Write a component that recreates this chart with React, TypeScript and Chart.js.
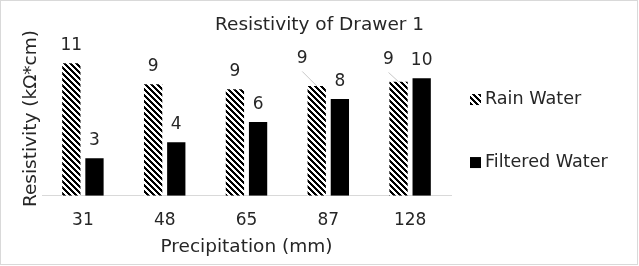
import React, { useEffect, useRef } from 'react';
import { Chart, registerables } from 'chart.js';

Chart.register(...registerables);

// ---- data ----
const categories = ['31', '48', '65', '87', '128'];
const rainWater = [10.94, 9.21, 8.79, 9.07, 9.42];
const filteredWater = [3.09, 4.41, 6.09, 7.99, 9.7];
const seriesNames = ['Rain Water', 'Filtered Water'];
const chartTitle = 'Resistivity of Drawer 1';
const xAxisTitle = 'Precipitation (mm)';
const yAxisTitle = 'Resistivity (kΩ*cm)';

// ---- styling ----
const FONT = '"DejaVu Sans", Verdana, sans-serif';
const FONT_SIZE = 17;
const TITLE_SIZE = 18.5;
const LEGEND_SIZE = 17.6;
const TEXT = '#262626';
const LABEL_GAP = 17.5;
// per-series, per-point label shifts (dx, dy) for labels moved off their bars
const LABEL_SHIFT: number[][][] = [
  [[0, 0], [0, 0], [0, 0], [-14.5, -9.5], [-10, -4.2]],
  [[0, 0], [0, 0], [0, 0], [0, 0], [0, 0]],
];

function makeHatch(): CanvasPattern {
  const size = 6;
  const tile = document.createElement('canvas');
  tile.width = size;
  tile.height = size;
  const g = tile.getContext('2d')!;
  const img = g.createImageData(size, size);
  for (let y = 0; y < size; y++) {
    for (let x = 0; x < size; x++) {
      const on = (((x - y) % size) + size) % size < 3;
      const i = (y * size + x) * 4;
      const v = on ? 0 : 255;
      img.data[i] = v;
      img.data[i + 1] = v;
      img.data[i + 2] = v;
      img.data[i + 3] = 255;
    }
  }
  g.putImageData(img, 0, 0);
  return g.createPattern(tile, 'repeat')!;
}

const barLabels = {
  id: 'barLabels',
  afterDatasetsDraw(chart: any) {
    const ctx: CanvasRenderingContext2D = chart.ctx;
    ctx.save();
    ctx.font = `${FONT_SIZE}px ${FONT}`;
    ctx.textAlign = 'center';
    ctx.textBaseline = 'middle';
    chart.data.datasets.forEach((ds: any, i: number) => {
      const meta = chart.getDatasetMeta(i);
      meta.data.forEach((bar: any, j: number) => {
        const [dx, dy] = LABEL_SHIFT[i][j];
        const x = bar.x + dx;
        const y = bar.y - LABEL_GAP + dy;
        if (dx || dy) {
          ctx.strokeStyle = '#c8c8c8';
          ctx.lineWidth = 1;
          ctx.beginPath();
          ctx.moveTo(x, y + 12.5);
          ctx.lineTo(bar.x, bar.y);
          ctx.stroke();
        }
        ctx.fillStyle = TEXT;
        ctx.fillText(String(Math.round(ds.data[j])), x, y);
      });
    });
    ctx.restore();
  },
};

const sideLegend = {
  id: 'sideLegend',
  afterDraw(chart: any) {
    const ctx: CanvasRenderingContext2D = chart.ctx;
    const { right, top, bottom } = chart.chartArea;
    const x0 = right + 19;
    const mid = (top + bottom) / 2 + 12;
    const spacing = 63;
    const n = chart.data.datasets.length;
    ctx.save();
    ctx.font = `${LEGEND_SIZE}px ${FONT}`;
    ctx.textAlign = 'left';
    ctx.textBaseline = 'middle';
    chart.data.datasets.forEach((ds: any, i: number) => {
      const y = mid + (i - (n - 1) / 2) * spacing;
      ctx.fillStyle = ds.backgroundColor;
      ctx.fillRect(x0, y - 5, 11, 11);
      ctx.fillStyle = TEXT;
      ctx.fillText(ds.label, x0 + 15, y);
    });
    ctx.restore();
  },
};

export default function App() {
  const ref = useRef<HTMLCanvasElement>(null);

  useEffect(() => {
    const hatch = makeHatch();
    const font = { family: FONT, size: FONT_SIZE, weight: 'normal' as const };
    const titleFont = { family: FONT, size: TITLE_SIZE, weight: 'normal' as const };
    const chart = new Chart(ref.current!, {
      type: 'bar',
      data: {
        labels: categories,
        datasets: [
          {
            label: seriesNames[0],
            data: rainWater,
            backgroundColor: hatch as any,
            borderWidth: 0,
            categoryPercentage: 0.566,
            barPercentage: 0.79,
          },
          {
            label: seriesNames[1],
            data: filteredWater,
            backgroundColor: '#000000',
            borderWidth: 0,
            categoryPercentage: 0.566,
            barPercentage: 0.79,
          },
        ],
      },
      options: {
        animation: false,
        responsive: false,
        maintainAspectRatio: false,
        layout: { padding: { left: 0, right: 0, top: 4, bottom: 0 } },
        plugins: {
          legend: { display: false },
          tooltip: { enabled: false },
          title: {
            display: true,
            text: chartTitle,
            color: TEXT,
            font: titleFont,
            padding: { top: 10.1, bottom: 5.1 },
          },
        },
        scales: {
          x: {
            grid: { display: false, drawTicks: true, tickLength: 15 },
            border: { display: true, color: '#d9d9d9', width: 1 },
            ticks: { color: TEXT, font, padding: 0 },
            title: {
              display: true,
              text: xAxisTitle,
              color: TEXT,
              font: titleFont,
              padding: { top: 4.8, bottom: 7.9 },
            },
          },
          y: {
            min: 0,
            max: 12.75,
            grid: { display: false, drawTicks: false },
            border: { display: false },
            ticks: { display: false },
            title: {
              display: true,
              text: yAxisTitle,
              color: TEXT,
              font: titleFont,
              padding: { top: 19.7, bottom: 0.1 },
            },
          },
          legendSpace: {
            type: 'linear',
            position: 'right',
            display: true,
            grid: { display: false, drawTicks: false },
            border: { display: false },
            ticks: { display: false },
            afterFit: (scale: any) => {
              scale.width = 188;
            },
          } as any,
        },
      },
      plugins: [barLabels, sideLegend],
    });
    return () => chart.destroy();
  }, []);

  return (
    <div style={{ position: 'absolute', left: 0, top: 0, width: 639, height: 266, background: '#fff' }}>
      <canvas ref={ref} width={639} height={266} style={{ display: 'block' }} />
      <div
        style={{
          position: 'absolute',
          left: 0,
          top: 0,
          width: 638,
          height: 265,
          boxSizing: 'border-box',
          border: '1px solid #d9d9d9',
          pointerEvents: 'none',
        }}
      />
    </div>
  );
}
